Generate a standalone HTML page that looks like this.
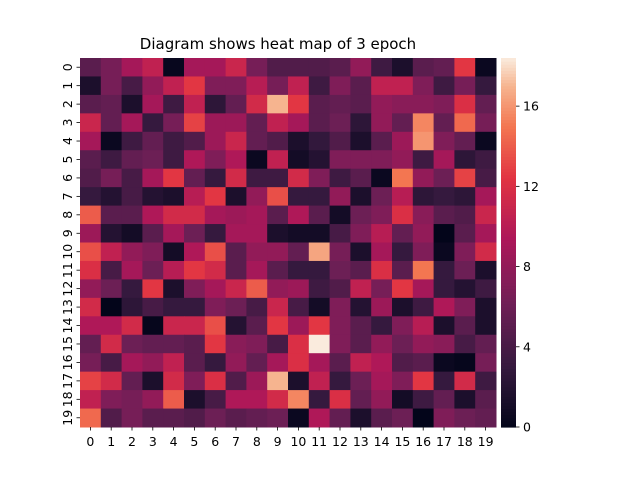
<!DOCTYPE html>
<html><head><meta charset="utf-8"><style>
body{margin:0;background:#fff;}
svg{display:block;font-family:"DejaVu Sans","Liberation Sans",sans-serif;}
</style></head><body>
<svg id="chart" width="640" height="480">
<text x="278" y="49" font-size="15" text-anchor="middle">Diagram shows heat map of 3 epoch</text>
<g id="cells"></g>
<g id="xticks"></g>
<g id="yticks"></g>
<g id="cbar"></g>
</svg>
<script>
const rowLabels = ["0","1","2","3","4","5","6","7","8","9","10","11","12","13","14","15","16","17","18","19"];
const colLabels = ["0","1","2","3","4","5","6","7","8","9","10","11","12","13","14","15","16","17","18","19"];
const cbTicks = [0,4,8,12,16];
const vmax = 18.4;
const values = [
[5,6.5,9,10.5,0.3,9,9,11,6.5,4.5, 4.5,4.5,5,8,3.5,1.5,5,5.5,12.5,0.5],
[1.5,6.5,4,8,10.5,12.5,7,7,10,6.5, 10.5,3.5,7,5,10.5,10.5,7,3.5,6.5,3],
[5,5.5,1.5,9,3.5,10.5,2.5,5.5,11.5,17, 12.5,5,5.5,5,8,7.5,7.5,7,12,5.5],
[11,5.5,9,3,6.5,13,8.5,8.5,5.5,10.5, 9,5,6,2.5,8,5.5,15.5,5.5,14.5,6.5],
[9,0.5,3.5,5.5,3.5,4.5,8.5,11,5.5,4.5, 1.5,2.8,4.5,1.5,5,8.5,16,7,5.5,0.5],
[5,3.5,5.5,6,3.5,9.5,7,9.5,0.5,10.5, 1,2,7,7,7,8,3.5,9,2.5,3.5],
[4.5,6.5,4,9,12.5,5.5,3,11.5,3.5,3.5, 11.5,7,3.5,5,0.5,15,8,6,13,4],
[3,2,4,2,1.5,10,12.5,1.5,8,13.5, 3,3,8,1.5,6,10,2.5,3,2.5,9],
[14,5,5,9.5,11.5,11.5,9,8.5,9,5, 9.5,5,1,6,7,12,7.5,5,4.5,11],
[8.5,2,1,5,9,6,3,9,9,1.5, 1,1,4,7,10,5.5,8,0,5,9],
[13.5,10.5,8,7,1,9.5,13.5,5,8,8, 5.5,16.5,6.5,1.5,9,3,7,0.5,7,11.5],
[12,4,9,6,10,12.5,11.5,5,9,5, 3,3,6,5,12,5,15,3,6,1.5],
[8,6,3,12.5,1.5,7,9,11,14,8, 8.5,3.5,4.5,10.5,6.5,12.5,9,3,2,3.5],
[11.5,0,2.5,4,3,3,7,6,4,11, 4,1,7,2,8.5,1.5,3.5,9.5,7,1.5],
[9.5,9.5,11.5,0.2,11,11,13.5,2,5,12.5, 8.5,12.5,7,5,3,7,10,1.5,5,1.5],
[5.5,11.5,6,5.5,5.5,5,12.5,7.5,7,4, 12,18.4,7,5,8,6,8,7.5,4,5.5],
[6.5,4,9,8,10.5,5,3,8,5.5,9, 12,9,5,10.5,9.5,4.5,5,0.5,0.2,6.5],
[13,11.5,5.5,1.5,11.5,7,12,4.5,8.5,17, 1.5,10.5,3,6,9,7,12.5,3,11.5,3.5],
[10.5,7,6.5,8,14,1.5,4,9.5,9.5,11.5, 15.5,3,12,5.5,8,1,3.5,5.5,1.5,5],
[14.5,4.5,6.5,5,5,4.5,6,5,5.5,6, 0.5,9.5,5.5,1.5,5,6,0,7,6,5.5]
];
const stops=[[0,[3,5,26]],[3,[53,25,62]],[6.2,[112,31,87]],[9.4,[173,23,89]],[12.4,[225,51,66]],[15,[243,118,81]],[17,[246,180,143]],[18.4,[250,235,221]]];
function cmap(v){v=Math.max(0,Math.min(vmax,v));for(let i=1;i<stops.length;i++){if(v<=stops[i][0]){const a=stops[i-1],b=stops[i],t=(v-a[0])/(b[0]-a[0]);const c=a[1].map((x,k)=>Math.round(x+(b[1][k]-x)*t));return `rgb(${c[0]},${c[1]},${c[2]})`;}}return "rgb(250,235,221)";}
const NS="http://www.w3.org/2000/svg";
const X0=80,X1=496,Y0=58,Y1=427;
const cw=(X1-X0)/colLabels.length, rh=(Y1-Y0)/rowLabels.length;
function xs(i){return X0+i*cw;} function ys(j){return Y0+j*rh;}
function mk(t,a,p){const e=document.createElementNS(NS,t);for(const k in a)e.setAttribute(k,a[k]);p.appendChild(e);return e;}
const cells=document.getElementById('cells');
values.forEach((row,j)=>row.forEach((v,i)=>{
 const r=mk('rect',{x:xs(i),y:ys(j),width:cw+0.5,height:rh+0.5,fill:cmap(v)},cells);
 
 
}));
const xt=document.getElementById('xticks');
colLabels.forEach((l,i)=>{const cx=xs(i)+cw/2;
 const tk=mk('line',{x1:cx,x2:cx,y1:Y1,y2:Y1+3.5,stroke:'#000','stroke-width':0.8},xt);
 
 
 const t=mk('text',{x:cx,y:Y1+19,'font-size':12.5,'text-anchor':'middle'},xt);t.textContent=l;
 
 
});
const yt=document.getElementById('yticks');
rowLabels.forEach((l,j)=>{const cy=ys(j)+rh/2;
 const tk=mk('line',{x1:X0-3.5,x2:X0,y1:cy,y2:cy,stroke:'#000','stroke-width':0.8},yt);
 
 
 const t=mk('text',{x:0,y:0,'font-size':12.5,'text-anchor':'middle',transform:`translate(${X0-8},${cy}) rotate(-90)`},yt);t.textContent=l;
 
 
});
const cb=document.getElementById('cbar');
const CX=501,CW=15,steps=120;
for(let k=0;k<steps;k++){const v0=vmax*k/steps;const yA=Y1-(Y1-Y0)*(k+1)/steps;
 const r=mk('rect',{x:CX,y:yA,width:CW,height:(Y1-Y0)/steps+0.6,fill:cmap(v0+vmax/steps/2)},cb);
 
 
}
cbTicks.forEach(v=>{const y=Y1-(Y1-Y0)*v/vmax;
 const tk=mk('line',{x1:CX+CW,x2:CX+CW+3.5,y1:y,y2:y,stroke:'#000','stroke-width':0.8},cb);
 
 
 const t=mk('text',{x:CX+CW+7,y:y+4.5,'font-size':12.5},cb);t.textContent=v;
 
 
});
</script>
</body></html>
